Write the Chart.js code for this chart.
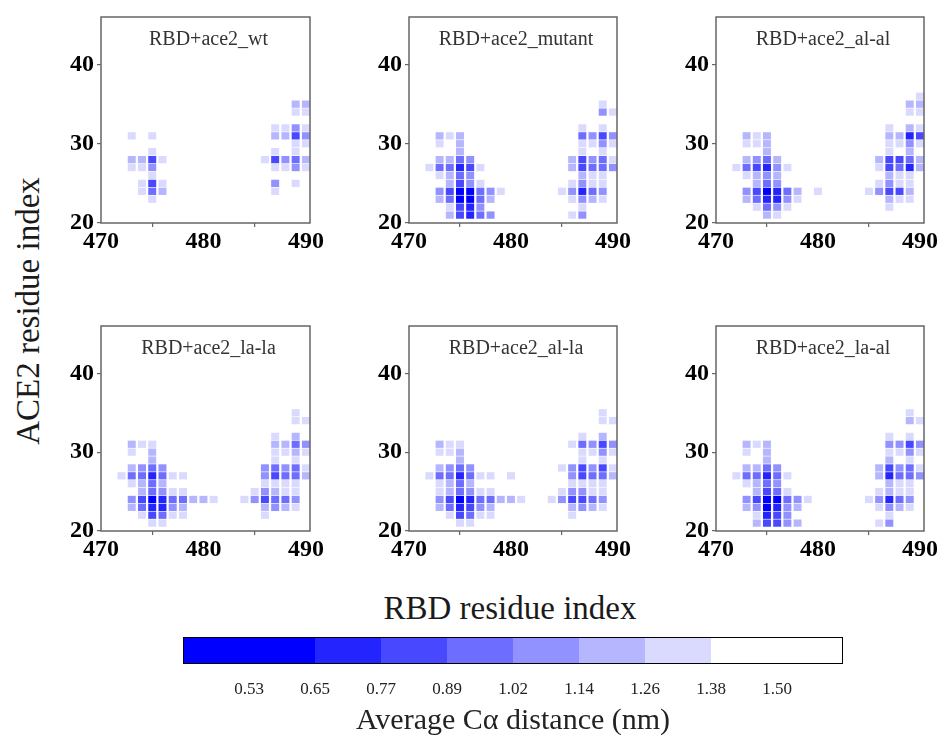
<!DOCTYPE html>
<html><head><meta charset="utf-8">
<script src="https://cdn.jsdelivr.net/npm/chart.js@4/dist/chart.umd.min.js"></script>
<style>
html,body{margin:0;padding:0;background:#fff;}
#wrap{position:relative;width:940px;height:739px;overflow:hidden;background:#fff;font-family:"Liberation Serif","Times New Roman",serif;}
canvas{position:absolute;}
.lbl{position:absolute;white-space:nowrap;color:#1a1a1a;font-size:33px;line-height:1;font-family:"Liberation Serif","Times New Roman",serif;}
</style></head><body>
<div id="wrap">
<div class="lbl" style="left:28px;top:311px;transform:translate(-50%,-50%) rotate(-90deg);">ACE2 residue index</div>
<div class="lbl" style="left:510px;top:608px;transform:translate(-50%,-50%);">RBD residue index</div>
</div>
<script>
// ---- data: [RBD residue, ACE2 residue, average C-alpha distance (nm)] ----
const panelTitles = ['RBD+ace2_wt','RBD+ace2_mutant','RBD+ace2_al-al','RBD+ace2_la-la','RBD+ace2_al-la','RBD+ace2_la-al'];
const xTicks = [470,480,490];
const yTicks = [20,30,40];
const cbTickLabels = ['0.53','0.65','0.77','0.89','1.02','1.14','1.26','1.38','1.50'];
const levelColors = ['#0000ff','#2424ff','#4848ff','#6d6dff','#9191ff','#b6b6ff','#dadaff','#ffffff'];

const wt = [
[473,31,1.32],[473,28,1.20],[473,27,1.32],
[474,28,1.20],[474,27,1.32],[474,25,1.32],[474,24,1.32],
[475,31,1.32],[475,29,1.32],[475,28,0.83],[475,27,1.08],[475,26,1.32],[475,25,0.83],[475,24,0.95],[475,23,1.32],
[476,28,1.32],[476,25,1.32],[476,24,1.20],
[486,28,1.32],
[487,32,1.32],[487,31,1.20],[487,29,1.32],[487,28,0.83],[487,27,1.32],[487,25,1.08],[487,24,1.32],
[488,32,1.32],[488,31,1.20],[488,28,1.08],[488,27,1.32],
[489,35,1.20],[489,34,1.32],[489,32,1.08],[489,31,0.83],[489,30,1.32],[489,29,1.32],[489,28,0.95],[489,27,1.08],[489,25,1.32],
[490,35,1.20],[490,34,1.32],[490,32,1.32],[490,31,1.08],[490,30,1.32],[490,28,1.20],[490,27,1.32]
];
const mutant = [
[472,27,1.32],
[473,31,1.20],[473,30,1.32],[473,28,1.20],[473,27,0.95],[473,26,1.32],[473,24,1.08],[473,23,1.20],
[474,31,1.32],[474,28,1.20],[474,27,0.95],[474,26,1.20],[474,25,1.20],[474,24,0.83],[474,23,0.95],[474,22,1.32],[474,21,1.20],
[475,31,1.20],[475,30,1.20],[475,29,1.20],[475,28,0.95],[475,27,0.71],[475,26,0.95],[475,25,0.83],[475,24,0.59],[475,23,0.59],[475,22,0.83],[475,21,0.83],
[476,28,1.08],[476,27,0.83],[476,26,1.08],[476,25,1.08],[476,24,0.59],[476,23,0.59],[476,22,0.71],[476,21,0.71],
[477,27,1.32],[477,25,1.32],[477,24,0.95],[477,23,0.95],[477,22,1.08],[477,21,0.95],
[478,24,1.08],[478,23,1.20],[478,21,1.08],
[479,24,1.32],
[485,24,1.32],
[486,28,1.20],[486,27,1.20],[486,25,1.32],[486,24,1.08],[486,23,1.32],[486,21,1.32],
[487,32,1.32],[487,31,0.95],[487,30,1.32],[487,29,1.32],[487,28,0.83],[487,27,0.83],[487,26,1.20],[487,25,1.08],[487,24,0.71],[487,23,1.08],[487,22,1.32],[487,21,1.08],
[488,31,1.08],[488,30,1.32],[488,28,1.08],[488,27,0.95],[488,26,1.32],[488,25,1.32],[488,24,0.95],[488,23,1.20],
[489,35,1.32],[489,34,1.08],[489,32,1.32],[489,31,0.83],[489,30,1.08],[489,29,1.32],[489,28,0.95],[489,27,0.95],[489,26,1.32],[489,25,1.32],[489,24,1.08],[489,23,1.32],
[490,34,1.32],[490,31,1.08],[490,30,1.32],[490,28,1.32],[490,27,1.08]
];
const alal = [
[472,27,1.32],
[473,31,1.20],[473,30,1.32],[473,28,1.20],[473,27,0.95],[473,26,1.32],[473,24,1.08],[473,23,1.20],
[474,31,1.32],[474,30,1.32],[474,28,1.08],[474,27,0.83],[474,26,1.20],[474,25,1.20],[474,24,0.83],[474,23,0.95],[474,22,1.32],
[475,31,1.20],[475,30,1.20],[475,29,1.20],[475,28,0.95],[475,27,0.71],[475,26,1.08],[475,25,0.95],[475,24,0.59],[475,23,0.71],[475,22,0.95],[475,21,1.20],
[476,28,1.20],[476,27,1.08],[476,26,1.20],[476,25,1.08],[476,24,0.71],[476,23,0.71],[476,22,1.08],[476,21,1.32],
[477,27,1.32],[477,24,0.95],[477,23,1.08],[477,22,1.32],
[478,24,1.20],[478,23,1.32],
[480,24,1.32],
[485,24,1.32],
[486,28,1.20],[486,27,1.32],[486,25,1.32],[486,24,1.08],
[487,32,1.32],[487,31,1.20],[487,30,1.32],[487,29,1.32],[487,28,0.83],[487,27,0.83],[487,26,1.20],[487,25,1.08],[487,24,0.83],[487,23,1.20],[487,22,1.32],
[488,31,1.20],[488,30,1.32],[488,28,0.83],[488,27,0.95],[488,26,1.32],[488,25,1.32],[488,24,0.83],[488,23,1.32],
[489,35,1.20],[489,34,1.32],[489,32,1.20],[489,31,0.71],[489,30,1.08],[489,29,1.20],[489,28,0.95],[489,27,0.71],[489,26,1.32],[489,25,1.32],[489,24,1.20],[489,23,1.32],
[490,36,1.32],[490,35,1.20],[490,34,1.32],[490,32,1.32],[490,31,0.83],[490,30,1.32],[490,28,1.20],[490,27,1.20]
];
const lala = [
[472,27,1.32],
[473,31,1.20],[473,30,1.32],[473,28,1.20],[473,27,0.95],[473,26,1.32],[473,24,1.08],[473,23,1.20],
[474,31,1.32],[474,28,1.08],[474,27,0.95],[474,26,1.20],[474,25,1.20],[474,24,0.83],[474,23,0.95],[474,22,1.32],
[475,31,1.32],[475,30,1.20],[475,29,1.20],[475,28,0.95],[475,27,0.71],[475,26,0.95],[475,25,0.95],[475,24,0.59],[475,23,0.71],[475,22,0.83],[475,21,1.32],
[476,28,1.08],[476,27,0.95],[476,26,1.20],[476,25,1.08],[476,24,0.71],[476,23,0.71],[476,22,0.95],[476,21,1.32],
[477,27,1.32],[477,25,1.32],[477,24,0.95],[477,23,1.08],[477,22,1.32],
[478,27,1.32],[478,25,1.32],[478,24,0.95],[478,23,1.20],[478,22,1.32],
[479,24,1.20],[480,24,1.20],[481,24,1.32],[484,24,1.32],
[485,25,1.32],[485,24,1.08],
[486,28,1.08],[486,27,1.08],[486,26,1.32],[486,25,1.08],[486,24,0.83],[486,23,1.20],[486,22,1.32],
[487,32,1.32],[487,31,1.20],[487,30,1.32],[487,29,1.32],[487,28,0.95],[487,27,0.83],[487,26,1.32],[487,25,1.20],[487,24,0.95],[487,23,1.08],
[488,31,1.20],[488,30,1.32],[488,28,1.08],[488,27,0.95],[488,26,1.32],[488,25,1.32],[488,24,0.95],[488,23,1.20],
[489,35,1.32],[489,34,1.32],[489,32,1.20],[489,31,0.95],[489,30,1.20],[489,29,1.32],[489,28,0.95],[489,27,0.95],[489,26,1.32],[489,25,1.32],[489,24,1.08],[489,23,1.32],
[490,34,1.32],[490,31,1.08],[490,30,1.32],[490,28,1.32],[490,27,1.20]
];
const alla = [
[472,27,1.32],
[473,31,1.20],[473,30,1.32],[473,28,1.20],[473,27,0.95],[473,26,1.32],[473,25,1.32],[473,24,1.08],[473,23,1.20],
[474,31,1.32],[474,30,1.32],[474,28,1.08],[474,27,0.95],[474,26,1.20],[474,25,1.20],[474,24,0.83],[474,23,0.95],[474,22,1.32],
[475,31,1.32],[475,30,1.20],[475,29,1.20],[475,28,0.95],[475,27,0.71],[475,26,0.95],[475,25,0.95],[475,24,0.59],[475,23,0.71],[475,22,0.83],[475,21,1.32],
[476,28,1.08],[476,27,0.95],[476,26,1.20],[476,25,1.08],[476,24,0.71],[476,23,0.83],[476,22,0.95],[476,21,1.32],
[477,27,1.32],[477,25,1.32],[477,24,0.95],[477,23,1.08],[477,22,1.32],
[478,27,1.32],[478,25,1.32],[478,24,0.95],[478,23,1.20],[478,22,1.32],
[479,24,1.20],[480,27,1.32],[480,24,1.20],[481,24,1.32],[484,24,1.32],
[485,28,1.32],[485,25,1.32],[485,24,1.08],
[486,31,1.32],[486,28,1.08],[486,27,1.08],[486,26,1.32],[486,25,1.08],[486,24,0.83],[486,23,1.20],[486,22,1.32],
[487,32,1.32],[487,31,0.95],[487,30,1.32],[487,29,1.32],[487,28,0.83],[487,27,0.83],[487,26,1.32],[487,25,1.08],[487,24,0.83],[487,23,1.08],
[488,31,1.08],[488,30,1.32],[488,28,1.08],[488,27,0.95],[488,26,1.32],[488,25,1.32],[488,24,0.95],[488,23,1.20],
[489,35,1.32],[489,34,1.32],[489,32,1.20],[489,31,0.83],[489,30,1.08],[489,29,1.32],[489,28,0.83],[489,27,0.95],[489,26,1.32],[489,25,1.32],[489,24,1.08],[489,23,1.32],
[490,34,1.32],[490,31,1.08],[490,30,1.32],[490,28,1.32],[490,27,1.20]
];
const laal = [
[472,27,1.32],
[473,31,1.20],[473,30,1.32],[473,28,1.20],[473,27,0.95],[473,26,1.32],[473,24,1.08],[473,23,1.20],
[474,31,1.32],[474,28,1.20],[474,27,0.95],[474,26,1.20],[474,25,1.20],[474,24,0.83],[474,23,1.08],[474,22,1.32],[474,21,1.20],
[475,31,1.20],[475,30,1.20],[475,29,1.20],[475,28,0.95],[475,27,0.71],[475,26,0.95],[475,25,0.83],[475,24,0.59],[475,23,0.59],[475,22,0.71],[475,21,0.83],
[476,28,1.08],[476,27,0.95],[476,26,1.08],[476,25,0.95],[476,24,0.59],[476,23,0.71],[476,22,0.83],[476,21,0.83],
[477,27,1.32],[477,25,1.32],[477,24,0.95],[477,23,1.08],[477,22,1.08],[477,21,1.08],
[478,24,1.08],[478,23,1.20],[478,21,1.20],
[479,24,1.32],
[485,24,1.32],
[486,28,1.20],[486,27,1.20],[486,25,1.32],[486,24,1.08],[486,23,1.32],[486,21,1.32],
[487,32,1.32],[487,31,1.08],[487,30,1.32],[487,29,1.20],[487,28,0.83],[487,27,0.71],[487,26,1.20],[487,25,1.20],[487,24,0.71],[487,23,1.08],[487,22,1.32],[487,21,1.08],
[488,31,1.08],[488,30,1.32],[488,28,1.08],[488,27,0.95],[488,26,1.32],[488,25,1.32],[488,24,0.95],[488,23,1.20],
[489,35,1.32],[489,34,1.20],[489,32,1.32],[489,31,0.83],[489,30,1.08],[489,29,1.32],[489,28,0.95],[489,27,0.95],[489,26,1.32],[489,25,1.32],[489,24,1.08],[489,23,1.32],
[490,34,1.32],[490,31,1.08],[490,30,1.32],[490,28,1.32],[490,27,1.08]
];
const panelData = [wt, mutant, alal, lala, alla, laal];

// ---- rendering ----
const FONT = '"Liberation Serif","Times New Roman",serif';
const thresholds = cbTickLabels.slice(1, 8).map(Number);
function colorFor(v){ let i = 0; while (i < thresholds.length && v >= thresholds[i]) i++; return levelColors[i]; }

const wrap = document.getElementById('wrap');
const frames = [
  {left:101, top:17, w:209, h:206}, {left:409, top:17, w:208, h:206}, {left:716, top:17, w:208, h:206},
  {left:101, top:326, w:209, h:205}, {left:409, top:326, w:208, h:205}, {left:716, top:326, w:208, h:205}
];

function addCanvas(left, top, W, H){
  const cv = document.createElement('canvas');
  cv.width = W; cv.height = H;
  cv.style.left = left + 'px'; cv.style.top = top + 'px';
  cv.style.width = W + 'px'; cv.style.height = H + 'px';
  wrap.appendChild(cv);
  return cv;
}

const panelBox = (title) => ({
  id: 'panelBox',
  afterDraw(chart){
    const {ctx, chartArea: a} = chart;
    ctx.save();
    ctx.strokeStyle = '#666'; ctx.lineWidth = 1.5;
    ctx.strokeRect(a.left, a.top, a.right - a.left, a.bottom - a.top);
    ctx.fillStyle = '#333'; ctx.font = '20px ' + FONT;
    ctx.textAlign = 'center'; ctx.textBaseline = 'middle';
    ctx.fillText(title, (a.left + a.right) / 2 + 3, a.top + 23);
    ctx.restore();
  }
});

function makePanel(i){
  const f = frames[i], cells = panelData[i];
  const padTop = 22, padRight = 28, yW = 60, xH = 35;
  const W = yW + f.w + padRight, H = padTop + f.h + xH;
  const cv = addCanvas(f.left - yW, f.top - padTop, W, H);
  const tickFont = {family: FONT, size: 24, weight: 'bold'};
  const grid = {display: true, drawOnChartArea: false, drawTicks: true, tickLength: 4, color: '#666', lineWidth: 1.2};
  new Chart(cv, {
    type: 'bar',
    data: {datasets: [{
      data: cells.map(c => ({x: c[0], y: [c[1] - 0.46, c[1] + 0.46]})),
      backgroundColor: cells.map(c => colorFor(c[2])),
      borderWidth: 0, inflateAmount: 0,
      barPercentage: 0.78, categoryPercentage: 1
    }]},
    options: {
      responsive: false, animation: false, devicePixelRatio: 1,
      layout: {padding: {left: 0, top: padTop, right: padRight, bottom: 0}},
      plugins: {legend: {display: false}, tooltip: {enabled: false}},
      scales: {
        x: {type: 'linear', min: 470, max: 490.4, offset: false,
            afterBuildTicks: s => { s.ticks = xTicks.map(v => ({value: v})); },
            afterFit: s => { s.height = xH; },
            grid, border: {display: false},
            ticks: {padding: 0, color: '#000', font: tickFont, maxRotation: 0, autoSkip: false}},
        y: {type: 'linear', min: 20, max: 46,
            afterBuildTicks: s => { s.ticks = yTicks.map(v => ({value: v})); },
            afterFit: s => { s.width = yW; },
            grid, border: {display: false},
            ticks: {padding: 3, color: '#000', font: tickFont, autoSkip: false}}
      }
    },
    plugins: [panelBox(panelTitles[i])]
  });
}
for (let i = 0; i < 6; i++) makePanel(i);

// ---- colour bar ----
(function(){
  const cv = addCanvas(160, 630, 710, 109);
  const bands = levelColors.map((c, i) => [i === 0 ? 0 : i + 1, i === levelColors.length - 1 ? cbTickLabels.length + 1 : i + 2]);
  new Chart(cv, {
    type: 'bar',
    data: {labels: [''], datasets: levelColors.map((c, i) => ({
      data: [bands[i]], backgroundColor: c, borderWidth: 0, inflateAmount: 0,
      barPercentage: 1, categoryPercentage: 1, grouped: false
    }))},
    options: {
      indexAxis: 'y', responsive: false, animation: false, devicePixelRatio: 1,
      layout: {padding: {left: 23, right: 27, top: 7, bottom: 0}},
      plugins: {legend: {display: false}, tooltip: {enabled: false}},
      scales: {
        x: {type: 'linear', min: 0, max: cbTickLabels.length + 1,
            afterBuildTicks: s => { s.ticks = cbTickLabels.map((t, i) => ({value: i + 1})); },
            afterFit: s => { s.height = 75; },
            grid: {display: false, drawTicks: false}, border: {display: false},
            ticks: {callback: (v, i) => cbTickLabels[i], padding: 15, color: '#222',
                    font: {family: FONT, size: 17}, maxRotation: 0, autoSkip: false},
            title: {display: true, text: 'Average Cα distance (nm)', color: '#222',
                    font: {family: FONT, size: 30}, padding: {top: 0, bottom: 0}}},
        y: {display: false}
      }
    },
    plugins: [{id: 'cbBox', afterDatasetsDraw(chart){
      const {ctx, chartArea: a} = chart;
      ctx.save(); ctx.strokeStyle = '#000'; ctx.lineWidth = 1;
      ctx.strokeRect(a.left + 0.5, a.top + 0.5, a.right - a.left - 1, a.bottom - a.top - 1);
      ctx.restore();
    }}]
  });
})();
</script>
</body></html>
